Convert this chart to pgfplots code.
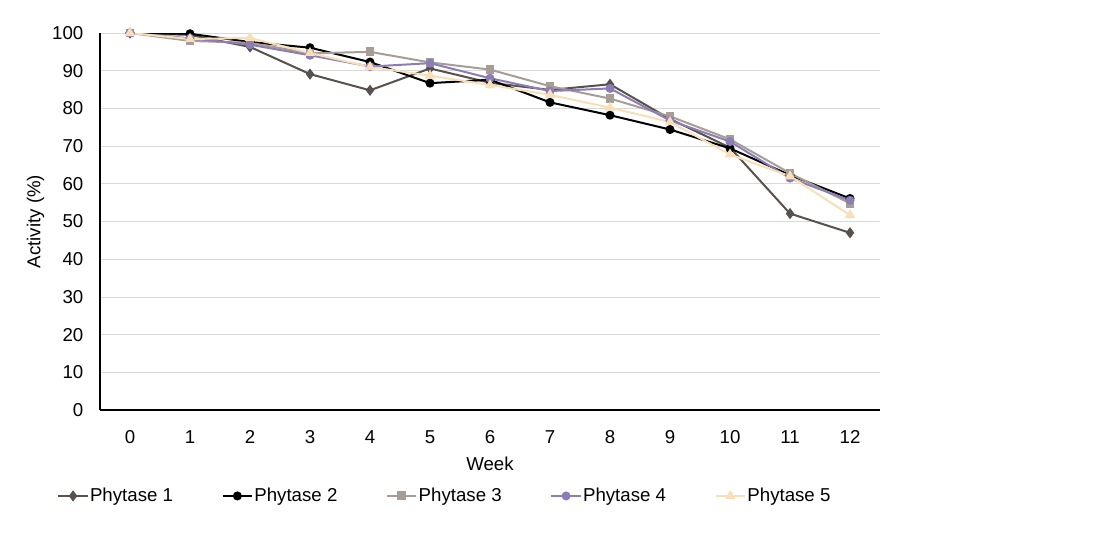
\documentclass[border=0pt]{standalone}
\usepackage{pgfplots}
\pgfplotsset{compat=1.18}
\usepackage{fontspec}
\setmainfont{Liberation Sans}

\definecolor{ph1}{HTML}{58514D}
\definecolor{ph2}{HTML}{000000}
\definecolor{ph3}{HTML}{A59D96}
\definecolor{ph4}{HTML}{8D7DB5}
\definecolor{ph5}{HTML}{F8DFB8}
\definecolor{gridc}{HTML}{D9D9D9}

\begin{document}
\begin{tikzpicture}[font=\fontsize{14}{16}\selectfont]
\path[use as bounding box] (0pt,0pt) rectangle (825pt,-402pt);
\begin{axis}[
  at={(75pt,-307.5pt)}, anchor=south west,
  scale only axis, width=585pt, height=282.75pt,
  xmin=-0.5, xmax=12.5, ymin=0, ymax=100,
  xtick={0,...,12}, ytick={0,10,...,100},
  major tick length=0pt,
  axis x line*=bottom, axis y line*=left,
  axis line style={black, line width=0.9pt, -},
  ymajorgrids, grid style={gridc, line width=0.6pt},
  /pgf/number format/assume math mode=true,
  xticklabel style={yshift=-12pt},
  yticklabel style={xshift=-9pt},
  xlabel={Week}, ylabel={Activity (\%)},
  xlabel style={yshift=-3pt},
  ylabel style={yshift=-1pt},
  every axis plot/.append style={line width=1.5pt, mark size=2.6pt},
  legend columns=5,
  legend image code/.code={\draw[mark repeat=2,mark phase=2,#1] plot coordinates {(0pt,0pt) (11pt,0pt) (22pt,0pt)};},
  legend style={draw=none, fill=none, at={(-0.055,-0.228)}, anchor=west, inner sep=0pt,
    nodes={inner sep=1pt, anchor=west},
    /tikz/every even column/.append style={column sep=35.5pt}},
]
\addplot[color=ph1, mark=diamond*, mark size=3pt] coordinates {
(0,100) (1,99.5) (2,96.3) (3,89.1) (4,84.8) (5,90.6) (6,86.8) (7,84.9) (8,86.4) (9,77.2) (10,69.6) (11,52.1) (12,47.0)};
\addlegendentry{Phytase 1}
\addplot[color=ph2, mark=*] coordinates {
(0,100) (1,99.8) (2,97.6) (3,96.1) (4,92.3) (5,86.7) (6,87.6) (7,81.6) (8,78.2) (9,74.4) (10,69.4) (11,62.3) (12,56.1)};
\addlegendentry{Phytase 2}
\addplot[color=ph3, mark=square*] coordinates {
(0,100) (1,97.9) (2,97.4) (3,94.6) (4,95.0) (5,92.2) (6,90.3) (7,85.9) (8,82.6) (9,77.9) (10,71.8) (11,62.8) (12,54.8)};
\addlegendentry{Phytase 3}
\addplot[color=ph4, mark=*] coordinates {
(0,100) (1,98.6) (2,96.9) (3,94.1) (4,91.1) (5,92.0) (6,88.0) (7,84.6) (8,85.3) (9,76.8) (10,71.2) (11,61.5) (12,55.6)};
\addlegendentry{Phytase 4}
\addplot[color=ph5, mark=triangle*, mark size=3pt] coordinates {
(0,100) (1,98.4) (2,98.7) (3,94.7) (4,91.0) (5,88.7) (6,86.2) (7,83.6) (8,80.2) (9,76.4) (10,67.8) (11,62.0) (12,51.7)};
\addlegendentry{Phytase 5}
\end{axis}
\end{tikzpicture}
\end{document}
